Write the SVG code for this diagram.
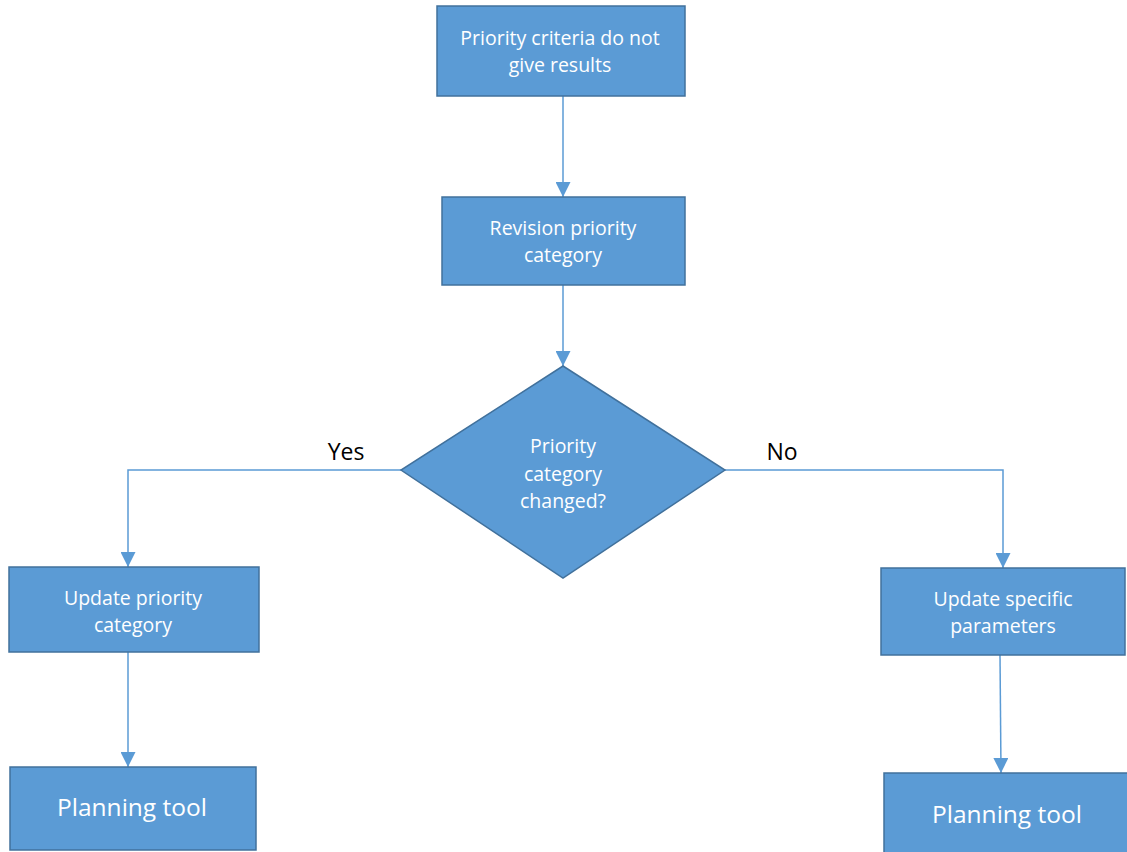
<svg xmlns="http://www.w3.org/2000/svg" width="1127" height="852" viewBox="0 0 1127 852">
<defs>
<marker id="arr" viewBox="0 0 10 10" refX="10" refY="5" markerWidth="15" markerHeight="15" markerUnits="userSpaceOnUse" orient="auto">
<path d="M0,0 L10,5 L0,10 Z" fill="#5B9BD5"/>
</marker>
<style>
.box{fill:#5B9BD5;stroke:#41719C;stroke-width:1.5}
.t{font-family:"Open Sans","Liberation Sans",sans-serif;font-size:19.5px;fill:#fff;text-anchor:middle}
.tb{font-family:"Open Sans","Liberation Sans",sans-serif;font-size:24.5px;fill:#fff;text-anchor:middle}
.lbl{font-family:"Open Sans","Liberation Sans",sans-serif;font-size:23px;fill:#000;text-anchor:middle}
.c{fill:none;stroke:#5B9BD5;stroke-width:1.5}
</style>
</defs>
<rect width="1127" height="852" fill="#fff"/>
<g id="connectors">
<path class="c" d="M563,96 L563,197" marker-end="url(#arr)"/>
<path class="c" d="M563,285 L563,366" marker-end="url(#arr)"/>
<path class="c" d="M401,470 L128,470 L128,567" marker-end="url(#arr)"/>
<path class="c" d="M725,470 L1003,470 L1003,568" marker-end="url(#arr)"/>
<path class="c" d="M128,652 L128,767" marker-end="url(#arr)"/>
<path class="c" d="M1000,655 L1001,773" marker-end="url(#arr)"/>
<text class="lbl" x="346" y="460">Yes</text>
<text class="lbl" x="782" y="460">No</text>
</g>
<g id="n1">
<rect class="box" x="437" y="6" width="248" height="90"/>
<text class="t" x="560" y="45">Priority criteria do not</text>
<text class="t" x="560" y="72">give results</text>
</g>
<g id="n2">
<rect class="box" x="442" y="197" width="243" height="88"/>
<text class="t" x="563" y="235">Revision priority</text>
<text class="t" x="563" y="262">category</text>
</g>
<g id="n3">
<polygon class="box" points="563,366 725,470 563,578 401,470"/>
<text class="t" x="563" y="453">Priority</text>
<text class="t" x="563" y="481">category</text>
<text class="t" x="563" y="508">changed?</text>
</g>
<g id="n4">
<rect class="box" x="9" y="567" width="250" height="85"/>
<text class="t" x="133" y="605">Update priority</text>
<text class="t" x="133" y="632">category</text>
</g>
<g id="n5">
<rect class="box" x="881" y="568" width="244" height="87"/>
<text class="t" x="1003" y="606">Update specific</text>
<text class="t" x="1003" y="633">parameters</text>
</g>
<g id="n6">
<rect class="box" x="10" y="767" width="246" height="83"/>
<text class="tb" x="132" y="816">Planning tool</text>
</g>
<g id="n7">
<rect class="box" x="884" y="773" width="246" height="83"/>
<text class="tb" x="1007" y="823">Planning tool</text>
</g>
</svg>
